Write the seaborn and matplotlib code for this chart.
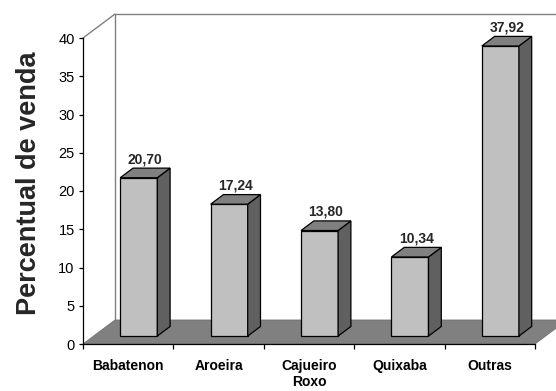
import matplotlib
matplotlib.use("Agg")
import matplotlib.pyplot as plt
from matplotlib.patches import Polygon
from matplotlib.lines import Line2D
import seaborn as sns
import pandas as pd

# ---- data ----
categories = ["Babatenon", "Aroeira", "Cajueiro\nRoxo", "Quixaba", "Outras"]
values = [20.70, 17.24, 13.80, 10.34, 37.92]
value_labels = ["20,70", "17,24", "13,80", "10,34", "37,92"]
y_ticks = [0, 5, 10, 15, 20, 25, 30, 35, 40]
y_label = "Percentual de venda"

df = pd.DataFrame({"cat": categories, "val": values})

sns.set_style("white")
plt.rcParams["font.family"] = ["Liberation Sans", "DejaVu Sans"]

W, H = 556, 391
fig = plt.figure(figsize=(W / 100, H / 100), dpi=100)
L, R, T, B = 83, 535, 38, 344
ax = fig.add_axes([L / W, (H - B) / H, (R - L) / W, (B - T) / H])
ax.set_facecolor("none")
fig.patch.set_facecolor("white")

sns.barplot(data=df, x="cat", y="val", color="#C0C0C0", saturation=1,
            width=0.41, edgecolor="black", linewidth=0.9, ax=ax, zorder=4)

ax.set_xlim(-0.5, 4.5)
ax.set_ylim(0, 40)

# 3D depth (data units)
px_x = (R - L) / 5.0      # pixels per category
px_y = (B - T) / 40.0     # pixels per unit
DXF, DYF = 32 / px_x, 24 / px_y          # full depth
F0, FD = 0.33, 0.40                      # bar front plane / bar depth fraction
bx, by = F0 * DXF, F0 * DYF
ddx, ddy = FD * DXF, FD * DYF

# back wall lines
wall_c = "#808080"
ax.add_line(Line2D([-0.5, -0.5 + DXF], [40, 40 + DYF], color=wall_c, lw=1, clip_on=False, zorder=0.5))
ax.add_line(Line2D([-0.5 + DXF, 4.5 + DXF], [40 + DYF, 40 + DYF], color=wall_c, lw=1, clip_on=False, zorder=0.5))
ax.add_line(Line2D([-0.5 + DXF, -0.5 + DXF], [DYF, 40 + DYF], color=wall_c, lw=1, clip_on=False, zorder=0.5))

# floor
floor = Polygon([(-0.5, 0), (4.5, 0), (4.5 + DXF, DYF), (-0.5 + DXF, DYF)],
                closed=True, facecolor="#808080", edgecolor="#707070", lw=0.6,
                clip_on=False, zorder=1)
ax.add_patch(floor)

gap = 5 / px_y
for p, lab in zip(list(ax.patches)[:len(values)], value_labels):
    if p is floor:
        continue
    x0 = p.get_x() + bx
    w = p.get_width()
    h = p.get_height()
    p.set_x(x0)
    p.set_y(by)
    x1 = x0 + w
    y0, y1 = by, by + h
    side = Polygon([(x1, y0), (x1 + ddx, y0 + ddy), (x1 + ddx, y1 + ddy), (x1, y1)],
                   closed=True, facecolor="#606060", edgecolor="black", lw=0.9,
                   clip_on=False, zorder=4)
    top = Polygon([(x0, y1), (x1, y1), (x1 + ddx, y1 + ddy), (x0 + ddx, y1 + ddy)],
                  closed=True, facecolor="#808080", edgecolor="black", lw=0.9,
                  clip_on=False, zorder=4)
    ax.add_patch(side)
    ax.add_patch(top)
    p.set_clip_on(False)
    ax.text(x0 + w / 2 + ddx / 2, y1 + ddy + gap, lab, ha="center", va="baseline",
            fontsize=10, fontweight="bold", zorder=5, clip_on=False)

# spines & ticks
for s in ["top", "right"]:
    ax.spines[s].set_visible(False)
for s in ["left", "bottom"]:
    ax.spines[s].set_color("black")
    ax.spines[s].set_linewidth(0.9)
    ax.spines[s].set_zorder(3)

ax.set_yticks(y_ticks)
ax.set_yticklabels([str(t) for t in y_ticks])
ax.tick_params(axis="y", direction="out", length=3, width=0.9, pad=3,
               labelsize=10.5, colors="black", left=True)
ax.set_xticks(range(len(categories)))
ax.set_xticklabels(categories, fontweight="bold", fontsize=10)
ax.set_xticks([i - 0.5 for i in range(len(categories) + 1)], minor=True)
ax.tick_params(axis="x", which="major", length=0, pad=11, colors="black")
ax.tick_params(axis="x", which="minor", direction="out", length=3.5, width=0.9,
               color="black", bottom=True)
ax.set_xlabel("")
ax.set_ylabel(y_label, fontsize=19.5, fontweight="bold", va="center")
ax.yaxis.set_label_coords((29.5 - L) / (R - L), (B - 183.5) / (B - T))

fig.savefig("out.png", dpi=100, facecolor="white")
